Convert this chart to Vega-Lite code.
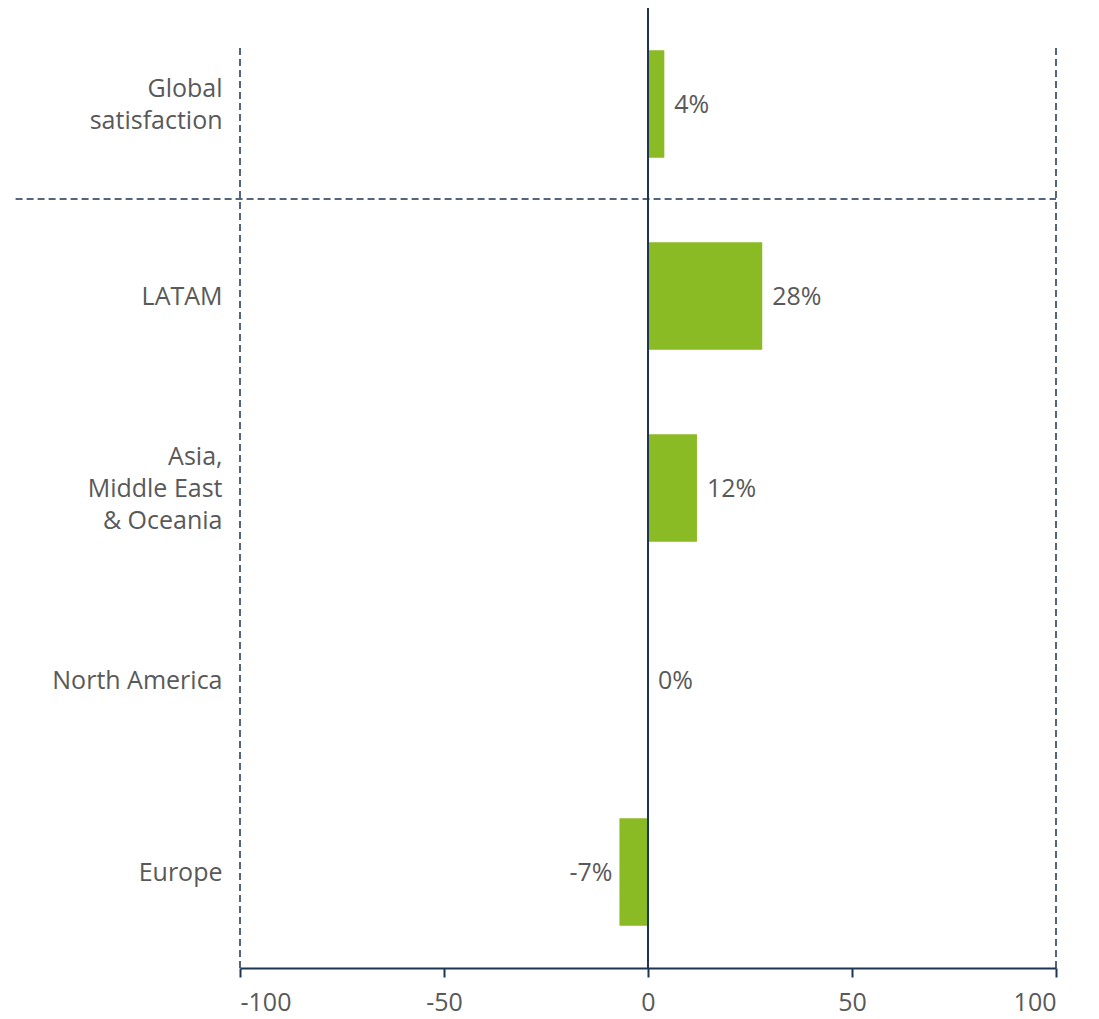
{
  "$schema": "https://vega.github.io/schema/vega-lite/v6.json",
  "width": 816,
  "height": 960,
  "autosize": {"type": "none"},
  "padding": {"left": 240, "top": 8, "right": 43, "bottom": 51},
  "config": {"view": {"stroke": null}, "font": "Open Sans"},
  "datasets": {
    "bars": [
      {"region": "Global|satisfaction", "value": 4, "label": "4%"},
      {"region": "LATAM", "value": 28, "label": "28%"},
      {"region": "Asia,|Middle East|& Oceania", "value": 12, "label": "12%"},
      {"region": "North America", "value": 0, "label": "0%"},
      {"region": "Europe", "value": -7, "label": "-7%"}
    ],
    "edges": [{"x": -100}, {"x": 100}]
  },
  "resolve": {"scale": {"y": "shared", "x": "shared"}},
  "layer": [
    {
      "data": {"name": "bars"},
      "mark": {"type": "bar", "color": "#8aba24"},
      "encoding": {
        "y": {
          "field": "region",
          "type": "nominal",
          "sort": null,
          "scale": {"paddingInner": 0.44, "paddingOuter": 0.22},
          "axis": {
            "title": null,
            "domain": false,
            "ticks": false,
            "grid": false,
            "labelPadding": 18,
            "labelFontSize": 25,
            "labelColor": "#595959",
            "labelLineHeight": 32,
            "labelOffset": {
              "condition": [
                {"test": "indexof(datum.value, 'Oceania') >= 0", "value": -31},
                {"test": "indexof(datum.value, 'Global') >= 0", "value": -15}
              ],
              "value": 1
            },
            "labelExpr": "split(datum.label, '|')"
          }
        },
        "x": {
          "field": "value",
          "type": "quantitative",
          "scale": {"domain": [-100, 100], "nice": false},
          "axis": {
            "title": null,
            "values": [-100, -50, 0, 50, 100],
            "grid": false,
            "domainColor": "#1b3552",
            "domainWidth": 2,
            "tickColor": "#1b3552",
            "tickWidth": 2,
            "tickSize": 9,
            "labelFontSize": 25,
            "labelColor": "#595959",
            "labelPadding": 13,
            "labelExpr": "'' + datum.value"
          }
        }
      }
    },
    {
      "data": {"name": "edges"},
      "mark": {"type": "rule", "color": "#1b3552", "strokeWidth": 1.5, "strokeDash": [7, 4]},
      "encoding": {
        "x": {"field": "x", "type": "quantitative"},
        "y": {"datum": "Global|satisfaction", "type": "nominal", "bandPosition": -0.02},
        "y2": {"datum": "Europe", "bandPosition": 1.393}
      }
    },
    {
      "data": {"values": [{"x": -155, "x2": 100}]},
      "mark": {"type": "rule", "color": "#1b3552", "strokeWidth": 1.5, "strokeDash": [7, 4], "clip": false},
      "encoding": {
        "x": {"field": "x", "type": "quantitative"},
        "x2": {"field": "x2"},
        "y": {"datum": "Global|satisfaction", "type": "nominal", "bandPosition": 1.3836}
      }
    },
    {
      "data": {"values": [{"x": 0}]},
      "mark": {"type": "rule", "color": "#1b3552", "strokeWidth": 2},
      "encoding": {
        "x": {"field": "x", "type": "quantitative"}
      }
    },
    {
      "data": {"name": "bars"},
      "transform": [{"filter": "datum.value >= 0"}],
      "mark": {"type": "text", "align": "left", "baseline": "middle", "dx": 10, "dy": 1, "fontSize": 25, "color": "#595959"},
      "encoding": {
        "y": {"field": "region", "type": "nominal", "sort": null},
        "x": {"field": "value", "type": "quantitative"},
        "text": {"field": "label"}
      }
    },
    {
      "data": {"name": "bars"},
      "transform": [{"filter": "datum.value < 0"}],
      "mark": {"type": "text", "align": "right", "baseline": "middle", "dx": -7, "dy": 1, "fontSize": 25, "color": "#595959"},
      "encoding": {
        "y": {"field": "region", "type": "nominal", "sort": null},
        "x": {"field": "value", "type": "quantitative"},
        "text": {"field": "label"}
      }
    }
  ]
}
